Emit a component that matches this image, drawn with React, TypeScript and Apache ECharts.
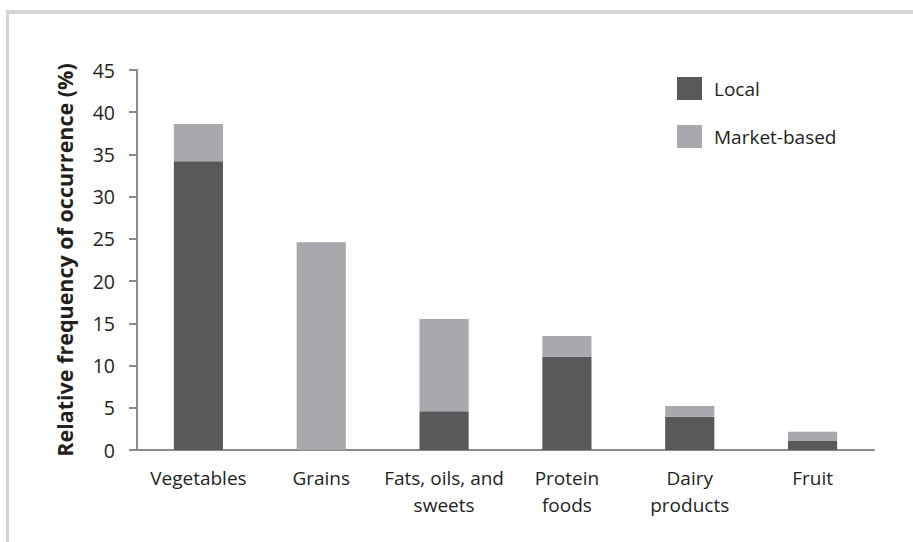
import React, { useEffect, useRef } from "react";
import * as echarts from "echarts";

const categories = ["Vegetables", "Grains", "Fats, oils, and\nsweets", "Protein\nfoods", "Dairy\nproducts", "Fruit"];
const localValues = [34.2, 0, 4.6, 11.05, 3.95, 1.07];
const marketValues = [4.4, 24.6, 10.9, 2.45, 1.25, 1.1];
const seriesNames = ["Local", "Market-based"];
const yTicks = { min: 0, max: 45, interval: 5 };
const yAxisTitle = "Relative frequency of occurrence (%)";

const FONT = "'Open Sans', 'Noto Sans', sans-serif";
const TEXT = "#231f20";

export default function App() {
  const ref = useRef<HTMLDivElement>(null);
  useEffect(() => {
    if (!ref.current) return;
    const chart = echarts.init(ref.current, undefined, { renderer: "svg" });
    chart.setOption({
      animation: false,
      backgroundColor: "#ffffff",
      textStyle: { fontFamily: FONT, color: TEXT },
      graphic: [
        { type: "rect", shape: { x: 6, y: 10, width: 907, height: 4 }, style: { fill: "#d4d4d4" } },
        { type: "rect", shape: { x: 6, y: 10, width: 3, height: 532 }, style: { fill: "#d4d4d4" } },
      ],
      legend: {
        orient: "vertical",
        left: 672,
        top: 72,
        itemWidth: 25,
        itemHeight: 23,
        itemGap: 25,
        icon: "rect",
        data: seriesNames,
        textStyle: { fontFamily: FONT, fontSize: 19, color: TEXT, padding: [0, 0, 0, 7] },
      },
      grid: { left: 137, right: 39, top: 70, bottom: 92, containLabel: false },
      xAxis: {
        type: "category",
        data: categories,
        axisLine: { lineStyle: { color: "#8a8a8a", width: 2 } },
        axisTick: { show: false },
        axisLabel: {
          fontFamily: FONT,
          fontSize: 19,
          color: TEXT,
          margin: 14,
          lineHeight: 27,
          interval: 0,
        },
      },
      yAxis: {
        type: "value",
        min: yTicks.min,
        max: yTicks.max,
        interval: yTicks.interval,
        name: yAxisTitle,
        nameLocation: "middle",
        nameGap: 62,
        nameTextStyle: { fontFamily: FONT, fontSize: 21.5, fontWeight: "bold", color: TEXT },
        axisLine: { show: true, lineStyle: { color: "#8a8a8a", width: 2 } },
        axisTick: { show: true, length: 8, lineStyle: { color: "#8a8a8a", width: 2 } },
        splitLine: { show: false },
        axisLabel: { fontFamily: FONT, fontSize: 19.5, color: TEXT, margin: 22 },
      },
      series: [
        {
          name: seriesNames[0],
          type: "bar",
          stack: "total",
          barWidth: "40%",
          data: localValues,
          itemStyle: { color: "#58595b" },
        },
        {
          name: seriesNames[1],
          type: "bar",
          stack: "total",
          barWidth: "40%",
          data: marketValues,
          itemStyle: { color: "#a7a9ac" },
        },
      ],
    });
    return () => chart.dispose();
  }, []);
  return <div ref={ref} style={{ position: "fixed", left: 0, top: 0, width: 913, height: 542 }} />;
}
